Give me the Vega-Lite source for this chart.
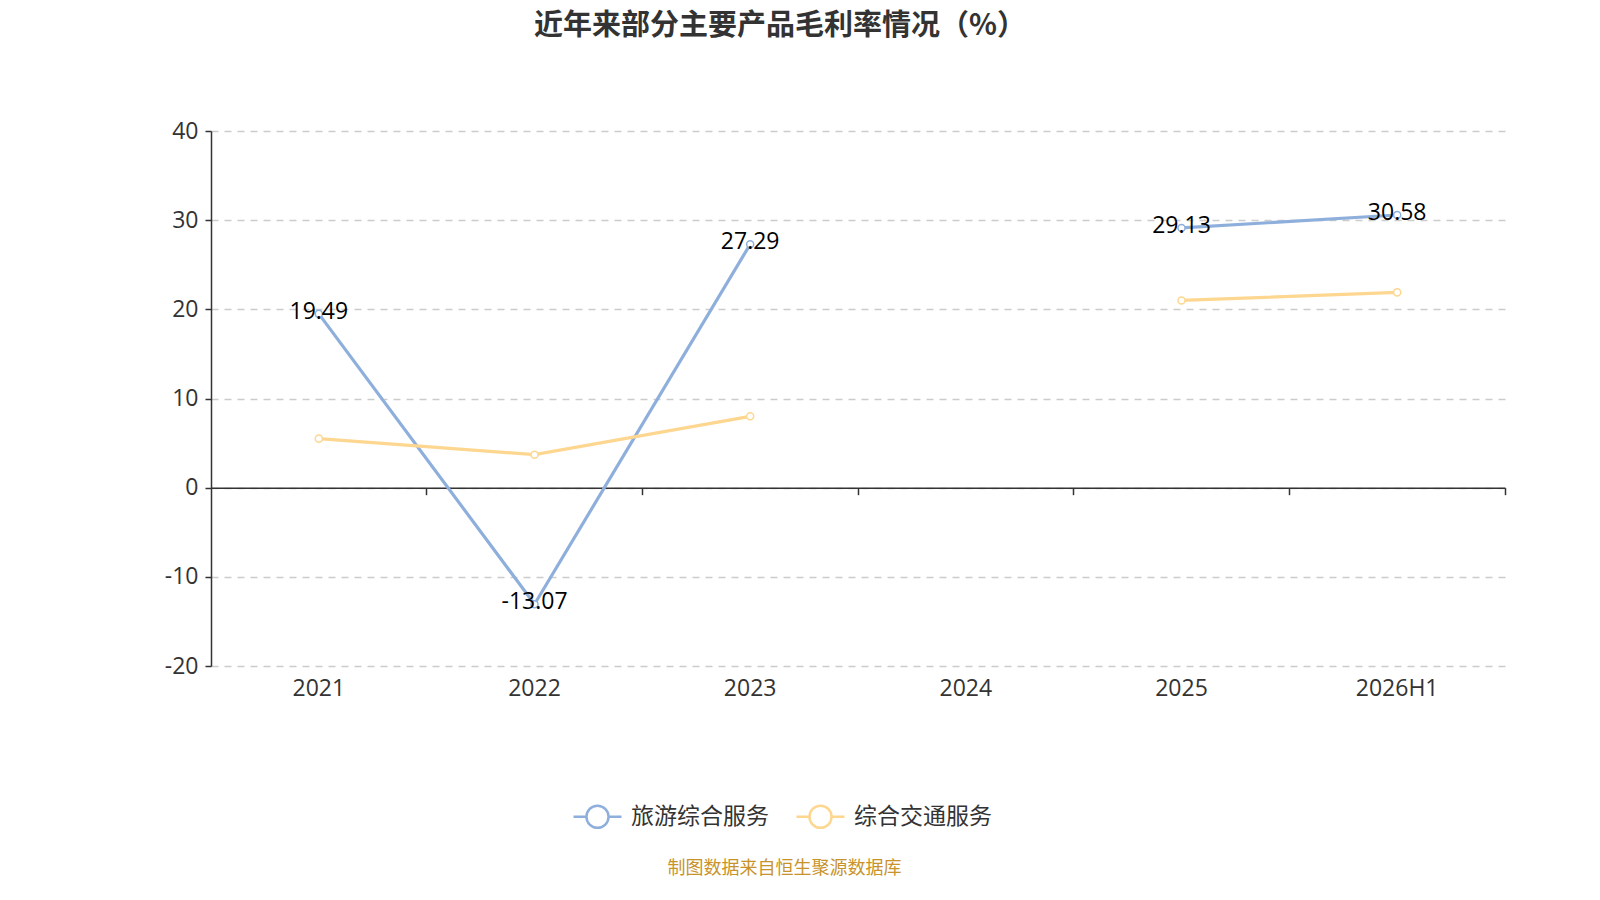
{
  "$schema": "https://vega.github.io/schema/vega-lite/v6.json",
  "autosize": {"type": "none"},
  "width": 1294,
  "height": 535,
  "padding": {"left": 211, "top": 131, "right": 95, "bottom": 234},
  "title": {
    "text": "近年来部分主要产品毛利率情况（%）",
    "fontSize": 29,
    "fontWeight": "bold",
    "color": "#333333",
    "anchor": "middle",
    "dx": -78,
    "offset": 79
  },
  "data": {
    "values": [
      {"year": "2021", "series": "旅游综合服务", "value": 19.49},
      {"year": "2022", "series": "旅游综合服务", "value": -13.07},
      {"year": "2023", "series": "旅游综合服务", "value": 27.29},
      {"year": "2024", "series": "旅游综合服务", "value": null},
      {"year": "2025", "series": "旅游综合服务", "value": 29.13},
      {"year": "2026H1", "series": "旅游综合服务", "value": 30.58},
      {"year": "2021", "series": "综合交通服务", "value": 5.5},
      {"year": "2022", "series": "综合交通服务", "value": 3.7},
      {"year": "2023", "series": "综合交通服务", "value": 8.0},
      {"year": "2024", "series": "综合交通服务", "value": null},
      {"year": "2025", "series": "综合交通服务", "value": 21.0},
      {"year": "2026H1", "series": "综合交通服务", "value": 21.9}
    ]
  },
  "layer": [
    {
      "mark": {"type": "line", "strokeWidth": 3.2},
      "encoding": {
        "x": {
          "field": "year", "type": "nominal", "bandPosition": 0.5,
          "scale": {"type": "band", "domain": ["2021", "2022", "2023", "2024", "2025", "2026H1"], "paddingInner": 0, "paddingOuter": 0},
          "axis": {
            "orient": "bottom",
            "domain": false, "ticks": false, "grid": false, "labelAngle": 0,
            "labelFont": "Open Sans", "labelFontSize": 23, "labelColor": "#333333", "labelPadding": 11,
            "title": "制图数据来自恒生聚源数据库",
            "titleColor": "#c8932b", "titleFontSize": 18, "titleFontWeight": "normal",
            "titleX": 573, "titleY": 202, "titleBaseline": "middle", "titleAnchor": "middle"
          }
        },
        "y": {
          "field": "value", "type": "quantitative",
          "scale": {"domain": [-20, 40], "nice": false},
          "axis": {
            "values": [-20, -10, 0, 10, 20, 30, 40], "title": null,
            "labelExpr": "replace(datum.label, '−', '-')",
            "domainColor": "#333333", "domainWidth": 1.5,
            "tickColor": "#333333", "tickSize": 6, "tickWidth": 1.5,
            "labelFont": "Open Sans", "labelFontSize": 23, "labelColor": "#333333", "labelPadding": 7,
            "gridColor": "#cccccc", "gridDash": [7, 6], "gridWidth": 1.5
          }
        },
        "color": {
          "field": "series", "type": "nominal",
          "scale": {"domain": ["旅游综合服务", "综合交通服务"], "range": ["#8eafdc", "#fdd690"]},
          "legend": {
            "title": null, "orient": "none", "direction": "horizontal",
            "legendX": 361, "legendY": 660,
            "symbolType": "M-1,0L-0.46,0M0.46,0L1,0M-0.46,0A0.46,0.46 0 1,0 0.46,0A0.46,0.46 0 1,0 -0.46,0",
            "symbolSize": 2304, "symbolStrokeWidth": 2.5, "symbolFillColor": "white",
            "labelFontSize": 23, "labelColor": "#333333", "labelOffset": 8, "columnPadding": 22
          }
        }
      }
    },
    {
      "mark": {"type": "point", "filled": false, "fill": "white", "fillOpacity": 1, "size": 50, "strokeWidth": 1.5, "opacity": 1},
      "encoding": {
        "x": {
          "field": "year", "type": "nominal", "bandPosition": 0.5,
          "axis": {
            "orient": "bottom",
            "offset": -178.33, "labels": false, "grid": false, "title": null,
            "domainColor": "#333333", "domainWidth": 1.5,
            "tickColor": "#333333", "tickSize": 7, "tickWidth": 1.5, "bandPosition": 1
          }
        },
        "y": {"field": "value", "type": "quantitative"},
        "color": {"field": "series", "type": "nominal"}
      }
    },
    {
      "transform": [{"filter": "datum.series === '旅游综合服务' && datum.value != null"}],
      "mark": {"type": "text", "font": "Open Sans", "fontSize": 23, "color": "#000000", "baseline": "middle", "dy": -2},
      "encoding": {
        "x": {"field": "year", "type": "nominal", "bandPosition": 0.5, "axis": null},
        "y": {"field": "value", "type": "quantitative"},
        "text": {"field": "value", "type": "nominal"}
      }
    }
  ],
  "resolve": {"axis": {"x": "independent"}},
  "config": {
    "font": "Noto Sans CJK SC",
    "view": {"stroke": null}
  }
}
